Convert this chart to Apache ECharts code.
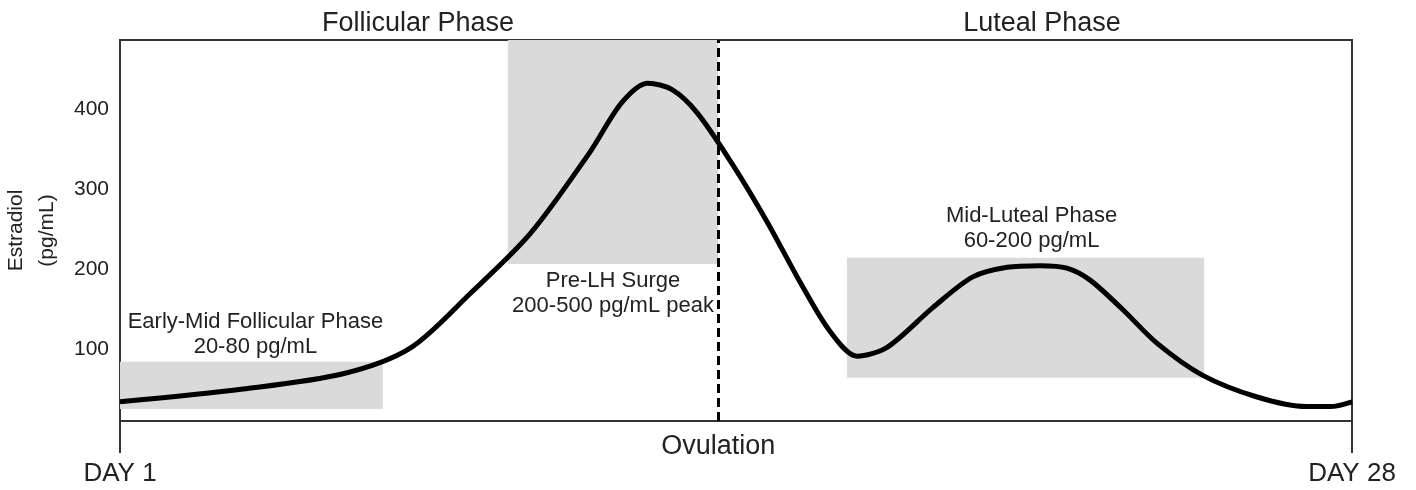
<!DOCTYPE html>
<html>
<head>
    <meta charset="utf-8">
    <script src="https://cdn.jsdelivr.net/npm/echarts@6/dist/echarts.min.js"></script>
    <style>
        html, body {margin: 0; padding: 0; background: #fff;}
        #main {width: 1416px; height: 490px;}
    </style>
</head>
<body>
<div id="main"></div>
<script type="text/javascript">
    // curve (day of cycle, pg/mL)
    var days = [1.00, 3.70, 5.89, 7.36, 8.67, 9.99, 11.30, 12.00, 12.57, 13.10, 13.65, 14.43, 15.18, 15.90, 16.56,
        17.15, 17.81, 18.82, 19.69, 20.44, 21.16, 21.75, 22.26, 22.98, 23.73, 24.73, 25.92, 27.01, 27.52, 28.00];
    var estradiol = [34, 50, 69, 101, 169, 244, 346, 408, 432, 424, 395, 330, 259, 184, 122,
        91, 102, 152, 190, 202, 204, 201, 186, 149, 107, 67, 40, 28, 28, 34];

    // grey reference bands
    var bandNames = ['Early-Mid Follicular Phase\n20-80 pg/mL', 'Pre-LH Surge\n200-500 pg/mL peak', 'Mid-Luteal Phase\n60-200 pg/mL'];
    var bandStart = [1, 9.5, 16.93];
    var bandEnd = [6.76, 14.11, 24.76];
    var bandLow = [25, 206, 64];
    var bandHigh = [84, 486, 214];

    var ovulationDay = 14.11;
    var yTicks = [100, 200, 300, 400];
    var dayTicks = [1, 28];
    var phaseTitles = ['Follicular Phase', 'Luteal Phase'];

    var yMin = 10, yMax = 486;
    var textColor = '#222';
    var font = 'Liberation Sans, Arial, sans-serif';

    var myChart = echarts.init(document.getElementById('main'));

    var curve = days.map(function (d, i) { return [d, estradiol[i]]; });

    var labelPos = ['top', 'bottom', 'top'];
    var labelDist = [2, 4, 4];
    var labelOff = [[4, 0], [0, 0], [6, 0]];
    var areas = bandNames.map(function (n, i) {
        return [{
            name: n,
            xAxis: bandStart[i],
            yAxis: bandLow[i],
            label: {
                show: true,
                position: labelPos[i],
                distance: labelDist[i],
                offset: labelOff[i],
                color: textColor,
                fontSize: 22,
                lineHeight: 25,
                fontFamily: font,
                align: 'center'
            }
        }, {
            xAxis: bandEnd[i],
            yAxis: bandHigh[i]
        }];
    });

    myChart.setOption({
        animation: false,
        title: [
            {text: phaseTitles[0], left: 413, top: 5, textAlign: 'center',
                textStyle: {fontSize: 27, fontWeight: 'normal', color: textColor, fontFamily: font}},
            {text: phaseTitles[1], left: 1037, top: 5, textAlign: 'center',
                textStyle: {fontSize: 27, fontWeight: 'normal', color: textColor, fontFamily: font}}
        ],
        grid: {
            left: 120, right: 64, top: 40, bottom: 69,
            containLabel: false,
            outerBoundsMode: 'none',
            show: true, borderColor: '#333', borderWidth: 2, backgroundColor: 'transparent'
        },
        xAxis: {
            type: 'value',
            min: 1,
            max: 28,
            splitLine: {show: false},
            axisLine: {show: true, lineStyle: {color: '#333', width: 2}},
            axisTick: {show: true, customValues: dayTicks, length: 32, lineStyle: {color: '#333', width: 2}},
            axisLabel: {
                customValues: dayTicks,
                margin: 40,
                fontSize: 26,
                color: textColor,
                fontFamily: font,
                formatter: function (v) { return 'DAY ' + v; }
            }
        },
        yAxis: {
            type: 'value',
            min: yMin,
            max: yMax,
            name: 'Estradiol\n(pg/mL)',
            nameLocation: 'middle',
            nameRotate: 90,
            nameGap: 54,
            nameTextStyle: {fontSize: 21, lineHeight: 31, color: textColor, fontFamily: font},
            splitLine: {show: false},
            axisLine: {show: true, lineStyle: {color: '#333', width: 2}},
            axisTick: {show: false},
            axisLabel: {customValues: yTicks, margin: 11, fontSize: 21, color: textColor, fontFamily: font}
        },
        series: [{
            type: 'line',
            data: curve,
            smooth: 0.3,
            symbol: 'none',
            lineStyle: {color: '#000', width: 5},
            z: 3,
            markArea: {
                silent: true,
                itemStyle: {color: '#dadada'},
                data: areas
            },
            markLine: {
                silent: true,
                symbol: 'none',
                lineStyle: {color: '#000', width: 3, type: [9, 5]},
                label: {
                    show: true,
                    position: 'start',
                    distance: 12,
                    formatter: 'Ovulation',
                    fontSize: 27,
                    color: textColor,
                    fontFamily: font
                },
                data: [[{xAxis: ovulationDay, yAxis: yMin}, {xAxis: ovulationDay, yAxis: yMax}]]
            }
        }]
    });
</script>
</body>
</html>
